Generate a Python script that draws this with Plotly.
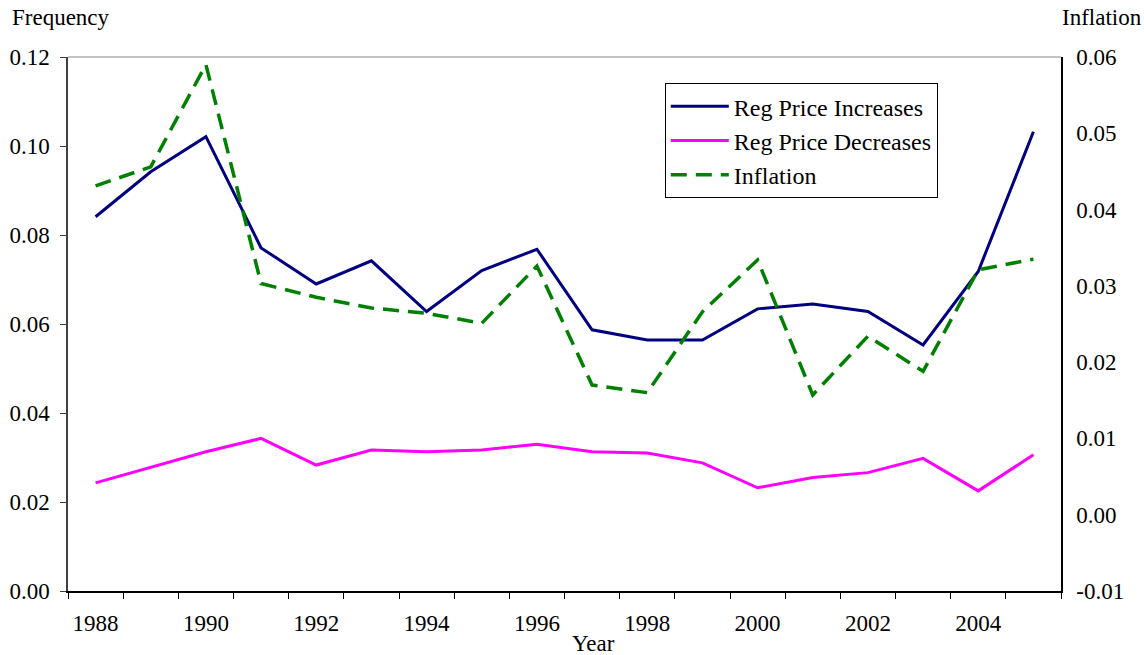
import plotly.graph_objects as go

years = list(range(1988, 2006))
reg_price_increases = [0.0841, 0.0942, 0.1021, 0.0771, 0.0690, 0.0742, 0.0628, 0.0720, 0.0768,
                       0.0587, 0.0564, 0.0564, 0.0634, 0.0645, 0.0628, 0.0553, 0.0718, 0.1032]
reg_price_decreases = [0.0243, 0.0278, 0.0313, 0.0343, 0.0283, 0.0317, 0.0313, 0.0317, 0.0330,
                       0.0313, 0.0310, 0.0288, 0.0232, 0.0255, 0.0266, 0.0298, 0.0225, 0.0306]
inflation = [0.0431, 0.0456, 0.0590, 0.0303, 0.0285, 0.0271, 0.0264, 0.0251, 0.0326,
             0.0170, 0.0160, 0.0266, 0.0334, 0.0157, 0.0234, 0.0188, 0.0321, 0.0335]

left_ticks = [0.00, 0.02, 0.04, 0.06, 0.08, 0.10, 0.12]
right_ticks = [-0.01, 0.00, 0.01, 0.02, 0.03, 0.04, 0.05, 0.06]
year_labels = [1988, 1990, 1992, 1994, 1996, 1998, 2000, 2002, 2004]

FONT = "Liberation Serif"

fig = go.Figure()
fig.add_trace(go.Scatter(x=years, y=reg_price_increases, name="Reg Price Increases",
                         mode="lines", line=dict(color="#000080", width=3)))
fig.add_trace(go.Scatter(x=years, y=reg_price_decreases, name="Reg Price Decreases",
                         mode="lines", line=dict(color="#FF00FF", width=3)))
fig.add_trace(go.Scatter(x=years, y=inflation, name="Inflation", yaxis="y2",
                         mode="lines", line=dict(color="#008000", width=3.5, dash="16px,9px")))

fig.update_layout(
    width=1144, height=655,
    margin=dict(l=68, r=83, t=57, b=64, autoexpand=False),
    paper_bgcolor="white", plot_bgcolor="white",
    font=dict(family=FONT, size=23, color="black"),
    showlegend=True,
    legend=dict(x=0.601, y=0.951, xanchor="left", yanchor="top",
                bordercolor="black", borderwidth=1, bgcolor="white",
                font=dict(family=FONT, size=24), tracegroupgap=0,
                itemwidth=58),
    xaxis=dict(range=[1987.5, 2005.5], tickmode="array", tickvals=year_labels,
               ticktext=[str(y) for y in year_labels], ticks="", showgrid=False,
               zeroline=False, showline=True, linecolor="black", linewidth=1.5,
               ticklabelstandoff=11, tickfont=dict(size=23), automargin=False,
               minor=dict(ticks="outside", tickmode="array",
                          tickvals=[y - 0.5 for y in years] + [2005.5],
                          ticklen=6, tickcolor="black", tickwidth=1.2, showgrid=False)),
    yaxis=dict(range=[0, 0.12], tickmode="array", tickvals=left_ticks,
               ticktext=[f"{v:.2f}" for v in left_ticks], ticks="outside", ticklen=6,
               tickcolor="#404040", showgrid=False, zeroline=False, showline=True,
               linecolor="#404040", linewidth=1.5, ticklabelstandoff=6,
               tickfont=dict(size=23), automargin=False),
    yaxis2=dict(range=[-0.01, 0.06], overlaying="y", side="right", tickmode="array",
                tickvals=right_ticks, ticktext=[f"{v:.2f}" for v in right_ticks],
                ticks="", showgrid=False, zeroline=False, showline=True,
                linecolor="black", linewidth=1.5, ticklabelstandoff=9,
                tickfont=dict(size=23), automargin=False),
    shapes=[dict(type="line", xref="paper", yref="paper", x0=0, x1=1, y0=1, y1=1,
                 line=dict(color="#888888", width=1.2))],
    annotations=[
        dict(text="Frequency", xref="paper", yref="paper", x=0, xshift=-58, y=1.0, yshift=40,
             xanchor="left", yanchor="middle", showarrow=False, font=dict(size=23)),
        dict(text="Inflation", xref="paper", yref="paper", x=1.0, y=1.0, xshift=-1, yshift=40,
             xanchor="left", yanchor="middle", showarrow=False, font=dict(size=23)),
        dict(text="Year", xref="paper", yref="paper", x=0.529, y=0, yshift=-52,
             xanchor="center", yanchor="middle", showarrow=False, font=dict(size=23)),
    ],
)

fig.write_html("out.html", config={"displayModeBar": False},
               post_script="document.body.style.margin='0px';")
